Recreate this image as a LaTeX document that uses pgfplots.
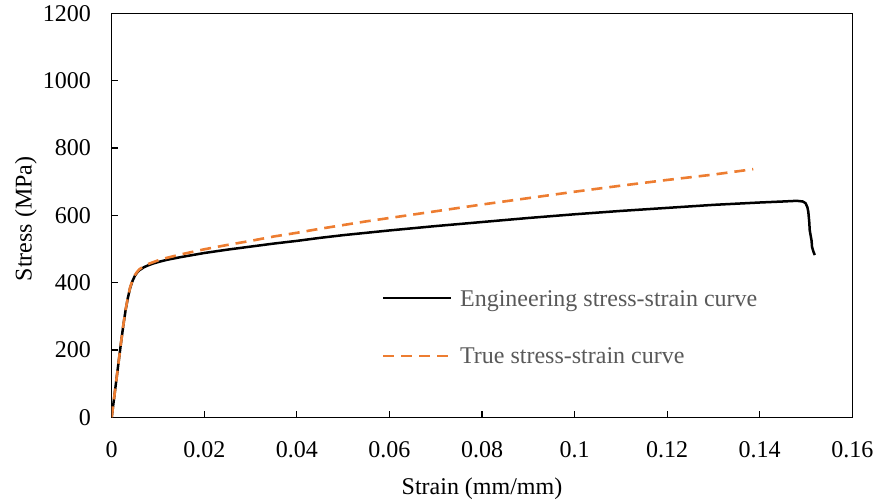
\documentclass[border=0pt]{standalone}
\usepackage{pgfplots}
\pgfplotsset{compat=1.18}
\usepackage{fontspec}
\setmainfont{Liberation Serif}
\definecolor{exorange}{HTML}{ED7D31}
\definecolor{legtext}{HTML}{595959}
\begin{document}
\begin{tikzpicture}
\useasboundingbox (0,0) rectangle (880bp,500bp);
\begin{axis}[
  at={(111.7bp,82.7bp)}, anchor=south west,
  scale only axis, width=740.6bp, height=404bp,
  xmin=0, xmax=0.16, ymin=0, ymax=1200,
  xtick={0,0.02,...,0.16}, ytick={0,200,...,1200},
  xticklabels={0,0.02,0.04,0.06,0.08,0.1,0.12,0.14,0.16},
  yticklabels={0,200,400,600,800,1000,1200},
  minor tick num=0, tick pos=left,
  tick align=inside, major tick length=6bp,
  tick style={line width=1.2bp, black},
  axis line style={line width=1.5bp},
  /pgf/number format/assume math mode=true,
  tick label style={font=\fontsize{24bp}{28bp}\selectfont, inner sep=0pt},
  xticklabel style={anchor=north, yshift=-23.7bp},
  yticklabel style={anchor=east, xshift=-20.7bp},
  xlabel={Strain (mm/mm)}, ylabel={Stress (MPa)},
  every axis x label/.style={at={(axis description cs:0.5,-0.19)}, anchor=base,
    font=\fontsize{24bp}{28bp}\selectfont},
  every axis y label/.style={at={(axis description cs:-0.108,0.491)}, anchor=base, rotate=90,
    font=\fontsize{24bp}{28bp}\selectfont},
  legend cell align=left,
  legend style={draw=none, fill=none, at={(0.365,0.3146)}, anchor=north west,
    inner sep=0pt, outer sep=0pt, row sep=42bp, column sep=7.5bp,
    font=\fontsize{24bp}{28bp}\selectfont, text=legtext,
    nodes={inner sep=0pt, text depth=0pt}},
  legend image code/.code={\draw[#1] (0bp,0bp) -- (68bp,0bp);},
]
\addplot[black, line width=2.5bp, line join=round] coordinates {
(0,0) (0.0005,55) (0.001,110) (0.0015,165) (0.002,220) (0.0025,272) (0.003,318)
(0.0035,355) (0.004,385) (0.0045,405) (0.005,420) (0.0055,430) (0.006,437)
(0.007,446) (0.008,452) (0.009,457) (0.01,461) (0.012,468) (0.015,476) (0.02,488)
(0.025,498) (0.03,507) (0.035,516) (0.04,524) (0.045,533) (0.05,541) (0.055,548)
(0.06,555) (0.07,568) (0.08,580) (0.09,592) (0.10,603) (0.11,613) (0.12,622)
(0.13,631) (0.14,638) (0.145,641) (0.148,643) (0.1493,641) (0.1499,636)
(0.1503,624) (0.1505,610) (0.1507,580) (0.1508,556) (0.151,540) (0.1512,525)
(0.1513,506) (0.1516,492) (0.1519,482)
};
\addlegendentry{Engineering stress-strain curve}
\addplot[exorange, line width=2.6bp, dash pattern=on 11bp off 7bp] coordinates {
(0,0) (0.0005,55) (0.001,110) (0.0015,165) (0.002,220) (0.0025,273) (0.003,319)
(0.0035,356) (0.004,387) (0.0045,407) (0.005,422) (0.0055,432) (0.006,440)
(0.007,449) (0.008,456) (0.009,461) (0.01,466) (0.012,474) (0.015,484) (0.02,499)
(0.025,512) (0.03,524) (0.035,537) (0.04,548) (0.045,560) (0.05,571) (0.055,582)
(0.06,592) (0.07,612) (0.08,632) (0.09,651) (0.10,670) (0.11,688) (0.12,705)
(0.13,721) (0.1386,737)
};
\addlegendentry{True stress-strain curve}
\end{axis}
\end{tikzpicture}
\end{document}
